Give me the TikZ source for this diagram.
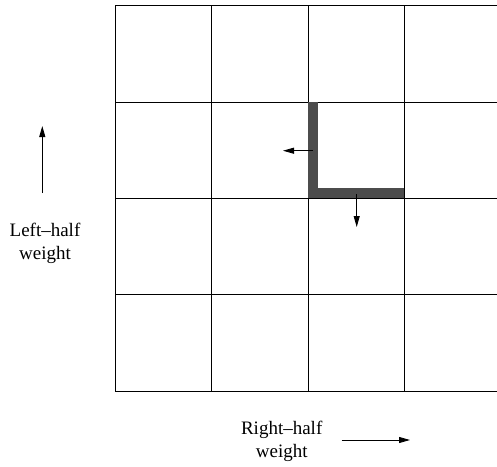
\documentclass[tikz,border=0pt]{standalone}
\usepackage{fontspec}
\setmainfont{Liberation Serif}
\usetikzlibrary{arrows.meta}
\begin{document}
\begin{tikzpicture}[x=1pt,y=-1pt,
  gridline/.style={line width=0.9pt,black},
  bar/.style={fill=black!70,draw=none},
  arr/.style={line width=0.9pt,-{Triangle[length=11pt,width=6pt]}},
  lbl/.style={font=\fontsize{19}{23}\selectfont,align=center,inner sep=0pt}]
\useasboundingbox (0,0) rectangle (497,466);
% grid
\foreach \y in {5.5,102,198,294,391} \draw[gridline] (115,\y) -- (497,\y);
\foreach \x in {115,211.5,308,404} \draw[gridline] (\x,5.5) -- (\x,391);
% L-shaped bar
\fill[bar] (307.7,102.3) rectangle (317.7,198.3);
\fill[bar] (307.7,188.3) rectangle (404.3,198.3);
% arrows on bar
\coordinate (la0) at (312.7,150.7);
\coordinate (la1) at (283,150.7);
\coordinate (da0) at (356.7,194);
\coordinate (da1) at (356.7,227);
\draw[arr] (la0) -- (la1);
\draw[arr] (da0) -- (da1);
% left label
\coordinate (lu0) at (42.3,193);
\coordinate (lu1) at (42.3,126);
\draw[arr] (lu0) -- (lu1);
\node[lbl] (left) at (45,243) {Left\textendash half\\weight};
% bottom label
\coordinate (ra0) at (341.7,440);
\coordinate (ra1) at (410,440);
\draw[arr] (ra0) -- (ra1);
\node[lbl] (right) at (281.7,441) {Right\textendash half\\weight};
\end{tikzpicture}
\end{document}
